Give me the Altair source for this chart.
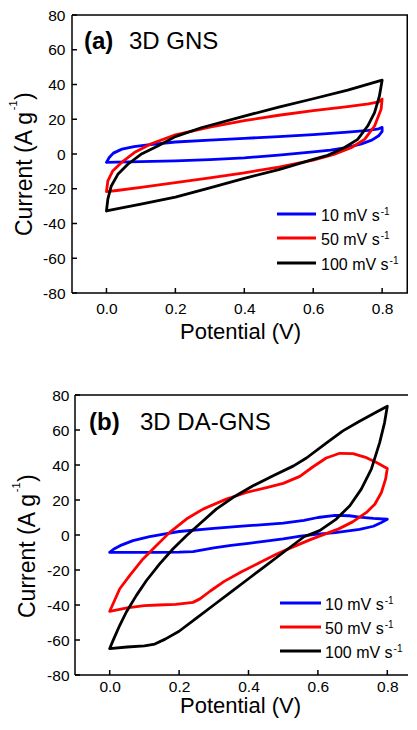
import altair as alt
import pandas as pd

FONT = "Liberation Sans"
RATES = ["10 mV s", "50 mV s", "100 mV s"]
RATE_SUP = "-1"
COLORS = ["#0000ff", "#ff0000", "#000000"]
X_TICKS = [0.0, 0.2, 0.4, 0.6, 0.8]
Y_TICKS = [-80, -60, -40, -20, 0, 20, 40, 60, 80]
Y_TITLE = ["Current (A g", "-1", ")"]
X_TITLE = "Potential (V)"

# ---------------- panel (a) 3D GNS ----------------
A10_V = [0.000, 0.008, 0.020, 0.045, 0.080, 0.120, 0.200, 0.300, 0.400, 0.500, 0.600, 0.700, 0.760, 0.790, 0.800,
         0.800, 0.790, 0.770, 0.740, 0.700, 0.650, 0.600, 0.500, 0.400, 0.300, 0.200, 0.100, 0.030, 0.000]
A10_I = [-4.8, -2.0, 0.5, 2.8, 4.3, 5.3, 6.9, 8.0, 9.0, 10.0, 11.2, 12.6, 13.6, 14.5, 15.3,
         13.0, 10.5, 8.0, 5.8, 3.8, 2.2, 1.2, -0.6, -2.2, -3.2, -3.9, -4.4, -4.7, -4.8]

A50_V = [0.000, 0.004, 0.018, 0.043, 0.081, 0.130, 0.200, 0.300, 0.400, 0.500, 0.600, 0.700, 0.760, 0.790, 0.800,
         0.797, 0.778, 0.749, 0.710, 0.660, 0.600, 0.500, 0.400, 0.300, 0.200, 0.100, 0.030, 0.000]
A50_I = [-21.7, -15.5, -9.8, -5.0, 0.8, 5.9, 11.0, 15.5, 19.2, 22.3, 25.0, 27.3, 28.8, 30.0, 31.6,
         25.7, 16.1, 8.4, 3.6, -0.2, -3.5, -7.5, -10.8, -13.8, -16.5, -19.2, -21.0, -21.7]

A100_V = [0.000, 0.004, 0.014, 0.033, 0.062, 0.100, 0.149, 0.200, 0.275, 0.400, 0.500, 0.600, 0.700, 0.800,
          0.792, 0.778, 0.758, 0.729, 0.690, 0.642, 0.600, 0.500, 0.400, 0.300, 0.200, 0.100, 0.033, 0.000]
A100_I = [-32.8, -26.0, -18.4, -11.7, -5.9, -0.2, 4.6, 10.0, 15.1, 21.8, 27.0, 31.8, 36.8, 42.5,
          33.3, 23.8, 16.1, 8.4, 3.6, -0.8, -3.1, -9.0, -14.0, -19.5, -24.8, -28.9, -31.4, -32.8]

# ---------------- panel (b) 3D DA-GNS ----------------
B10_V = [0.000, 0.012, 0.030, 0.067, 0.115, 0.160, 0.200, 0.300, 0.400, 0.500, 0.560, 0.600, 0.650, 0.690, 0.720, 0.760, 0.800,
         0.780, 0.760, 0.720, 0.650, 0.600, 0.550, 0.500, 0.450, 0.400, 0.350, 0.300, 0.260, 0.240, 0.200, 0.140, 0.050, 0.000]
B10_I = [-9.9, -8.0, -6.1, -3.2, -0.9, 0.7, 2.0, 3.8, 5.3, 6.8, 8.3, 10.0, 11.2, 11.0, 10.2, 9.5, 9.0,
         6.8, 5.0, 3.2, 1.3, 0.5, -0.6, -2.2, -3.5, -4.8, -5.9, -7.3, -8.8, -9.5, -9.8, -9.9, -9.9, -9.9]

B50_V = [0.000, 0.012, 0.029, 0.058, 0.096, 0.134, 0.173, 0.221, 0.269, 0.336, 0.394, 0.452, 0.500, 0.548, 0.586, 0.624,
         0.663, 0.701, 0.740, 0.769, 0.800,
         0.795, 0.783, 0.764, 0.740, 0.700, 0.660, 0.620, 0.580, 0.520, 0.480, 0.430, 0.380, 0.330, 0.290, 0.260, 0.240,
         0.190, 0.140, 0.100, 0.050, 0.000]
B50_I = [-43.6, -38.3, -30.7, -23.1, -13.7, -6.1, 1.5, 9.1, 14.8, 20.5, 24.3, 27.1, 29.5, 33.5, 39.0, 44.0,
         46.7, 46.5, 44.2, 41.4, 38.0,
         31.9, 24.3, 17.6, 12.9, 7.5, 3.5, 0.5, -2.5, -7.5, -11.0, -16.0, -21.0, -26.5, -32.0, -36.5, -38.5,
         -39.7, -40.0, -40.3, -41.7, -43.6]

B100_V = [0.000, 0.012, 0.029, 0.048, 0.077, 0.106, 0.144, 0.182, 0.221, 0.259, 0.307, 0.355, 0.413, 0.471, 0.530,
          0.567, 0.624, 0.672, 0.720, 0.769, 0.800,
          0.792, 0.778, 0.754, 0.725, 0.692, 0.653, 0.605, 0.560, 0.500, 0.450, 0.400, 0.350, 0.300, 0.250, 0.200,
          0.160, 0.130, 0.100, 0.050, 0.000]
B100_I = [-64.9, -59.2, -51.6, -44.0, -34.5, -26.0, -16.5, -8.0, -0.4, 6.3, 14.8, 21.4, 28.1, 33.8, 39.5,
          44.0, 52.5, 59.5, 65.0, 70.3, 73.6,
          64.1, 52.8, 37.6, 26.2, 16.7, 9.1, 2.5, -1.0, -10.0, -17.5, -25.0, -32.5, -40.0, -47.5, -55.0,
          -59.5, -62.3, -63.3, -64.0, -64.9]

# Arial / Liberation Sans advance widths (per em), used to place superscripts after text
_W = {"0": .556, "1": .556, "5": .556, " ": .278, "m": .833, "V": .667, "s": .5, "C": .722, "u": .556,
      "r": .333, "e": .556, "n": .556, "t": .278, "(": .333, ")": .333, "A": .667, "g": .556, "-": .333}


def tw(s, size):
    return sum(_W.get(c, .556) for c in s) * size


def loops_df(series):
    rows = []
    for rate, vs, cur in series:
        for k, (v, i) in enumerate(zip(vs, cur)):
            rows.append({"rate": rate, "V": v, "I": i, "k": k})
    return pd.DataFrame(rows)


ONE = pd.DataFrame({"z": [0]})


def txt(x, y, s, size, weight="normal", align="left", baseline="alphabetic", angle=0):
    return alt.Chart(ONE).mark_text(font=FONT, fontSize=size, fontWeight=weight, align=align,
                                    baseline=baseline, angle=angle, color="black").encode(
        x=alt.value(x), y=alt.value(y), text=alt.value(s))


def hrule(x0, x1, y, color="black", sw=1.5):
    return alt.Chart(ONE).mark_rule(color=color, strokeWidth=sw).encode(
        x=alt.value(x0), x2=alt.value(x1), y=alt.value(y))


def vrule(x, y0, y1, sw=1.5):
    return alt.Chart(ONE).mark_rule(color="black", strokeWidth=sw).encode(
        x=alt.value(x), y=alt.value(y0), y2=alt.value(y1))


def panel(df, xdom, W, H, inset, tag, name, tag_x, name_x, text_y,
          leg_x0, leg_x1, leg_tx, leg_ys, ylab_pad, xlab_pad, xtitle_pad, ytx, yty, right_frame):
    xs = alt.Scale(domain=xdom, nice=False, zero=False)
    ys = alt.Scale(domain=[-80, 80], nice=False, zero=False)
    xax = alt.Axis(values=X_TICKS, labelExpr="format(datum.value, '.1f')", title=X_TITLE,
                   titlePadding=xtitle_pad, labelPadding=xlab_pad)
    yax = alt.Axis(values=Y_TICKS, labelExpr="'' + datum.value", title=None, labelPadding=ylab_pad)
    lines = alt.Chart(df).mark_line(strokeWidth=2.8, strokeJoin="round", strokeCap="round").encode(
        x=alt.X("V:Q", scale=xs, axis=xax),
        y=alt.Y("I:Q", scale=ys, axis=yax),
        color=alt.Color("rate:N", scale=alt.Scale(domain=RATES, range=COLORS), legend=None),
        order="k:Q",
    )
    xt = alt.Chart(pd.DataFrame({"V": X_TICKS})).mark_rule(color="black", strokeWidth=1.5).encode(
        x=alt.X("V:Q", scale=xs, axis=xax), y=alt.value(H), y2=alt.value(H - 5))
    yt = alt.Chart(pd.DataFrame({"I": Y_TICKS})).mark_rule(color="black", strokeWidth=1.5).encode(
        y=alt.Y("I:Q", scale=ys, axis=yax), x=alt.value(inset), x2=alt.value(inset + 5))
    frame = [hrule(inset, W, 0), hrule(inset, W, H), vrule(inset, 0, H)]
    if right_frame:
        frame.append(vrule(W - 0.75, 0, H))
    texts = [txt(tag_x, text_y, tag, 24, weight="bold"), txt(name_x, text_y, name, 24)]
    # y-axis title with superscript, rotated
    w1 = tw(Y_TITLE[0], 23)
    w2 = tw(Y_TITLE[1], 11)
    ytitle = [
        txt(ytx, yty, Y_TITLE[0], 23, angle=270),
        txt(ytx - 15, yty - w1 - 0.5, Y_TITLE[1], 11, angle=270),
        txt(ytx, yty - w1 - w2 - 1, Y_TITLE[2], 23, angle=270),
    ]
    legend = []
    for lab, col, ly in zip(RATES, COLORS, leg_ys):
        legend.append(hrule(leg_x0, leg_x1, ly, color=col, sw=3))
        legend.append(txt(leg_tx, ly + 6.5, lab, 16))
        legend.append(txt(leg_tx + tw(lab, 16) + 1, ly + 0.5, RATE_SUP, 10))
    return alt.layer(lines, xt, yt, *frame, *texts, *ytitle, *legend).properties(width=W, height=H)


df_a = loops_df([(RATES[0], A10_V, A10_I), (RATES[1], A50_V, A50_I), (RATES[2], A100_V, A100_I)])
df_b = loops_df([(RATES[0], B10_V, B10_I), (RATES[1], B50_V, B50_I), (RATES[2], B100_V, B100_I)])

W = 336
HA, HB = 278, 280
A_PX = 344.6
B_PX = 347.0
B_INSET = 3
a_dom = [-0.1, -0.1 + W / A_PX]
b_min = -0.1 - B_INSET / B_PX
b_dom = [b_min, b_min + W / B_PX]

pa = panel(df_a, a_dom, W, HA, 0, "(a)", "3D GNS", 12, 57, 34,
           205, 244, 249, [199, 223, 248], 7, 8, 5, -40, 221, True)
pb = panel(df_b, b_dom, W, HB, B_INSET, "(b)", "3D DA-GNS", 17, 68, 35,
           208, 249, 253, [208, 232, 256], 3, 4, 1, -36.7, 223, False)

chart = alt.vconcat(pa, pb, spacing=45).properties(
    padding={"left": 0, "top": 0, "right": 0, "bottom": 2.5}
).configure_view(strokeWidth=0).configure_axis(
    grid=False, domain=False, ticks=False,
    labelFont=FONT, labelFontSize=15.5, labelColor="black",
    titleFont=FONT, titleFontSize=22, titleFontWeight="normal", titleColor="black",
)

chart.save("out.html", embed_options={"renderer": "svg", "actions": False})
